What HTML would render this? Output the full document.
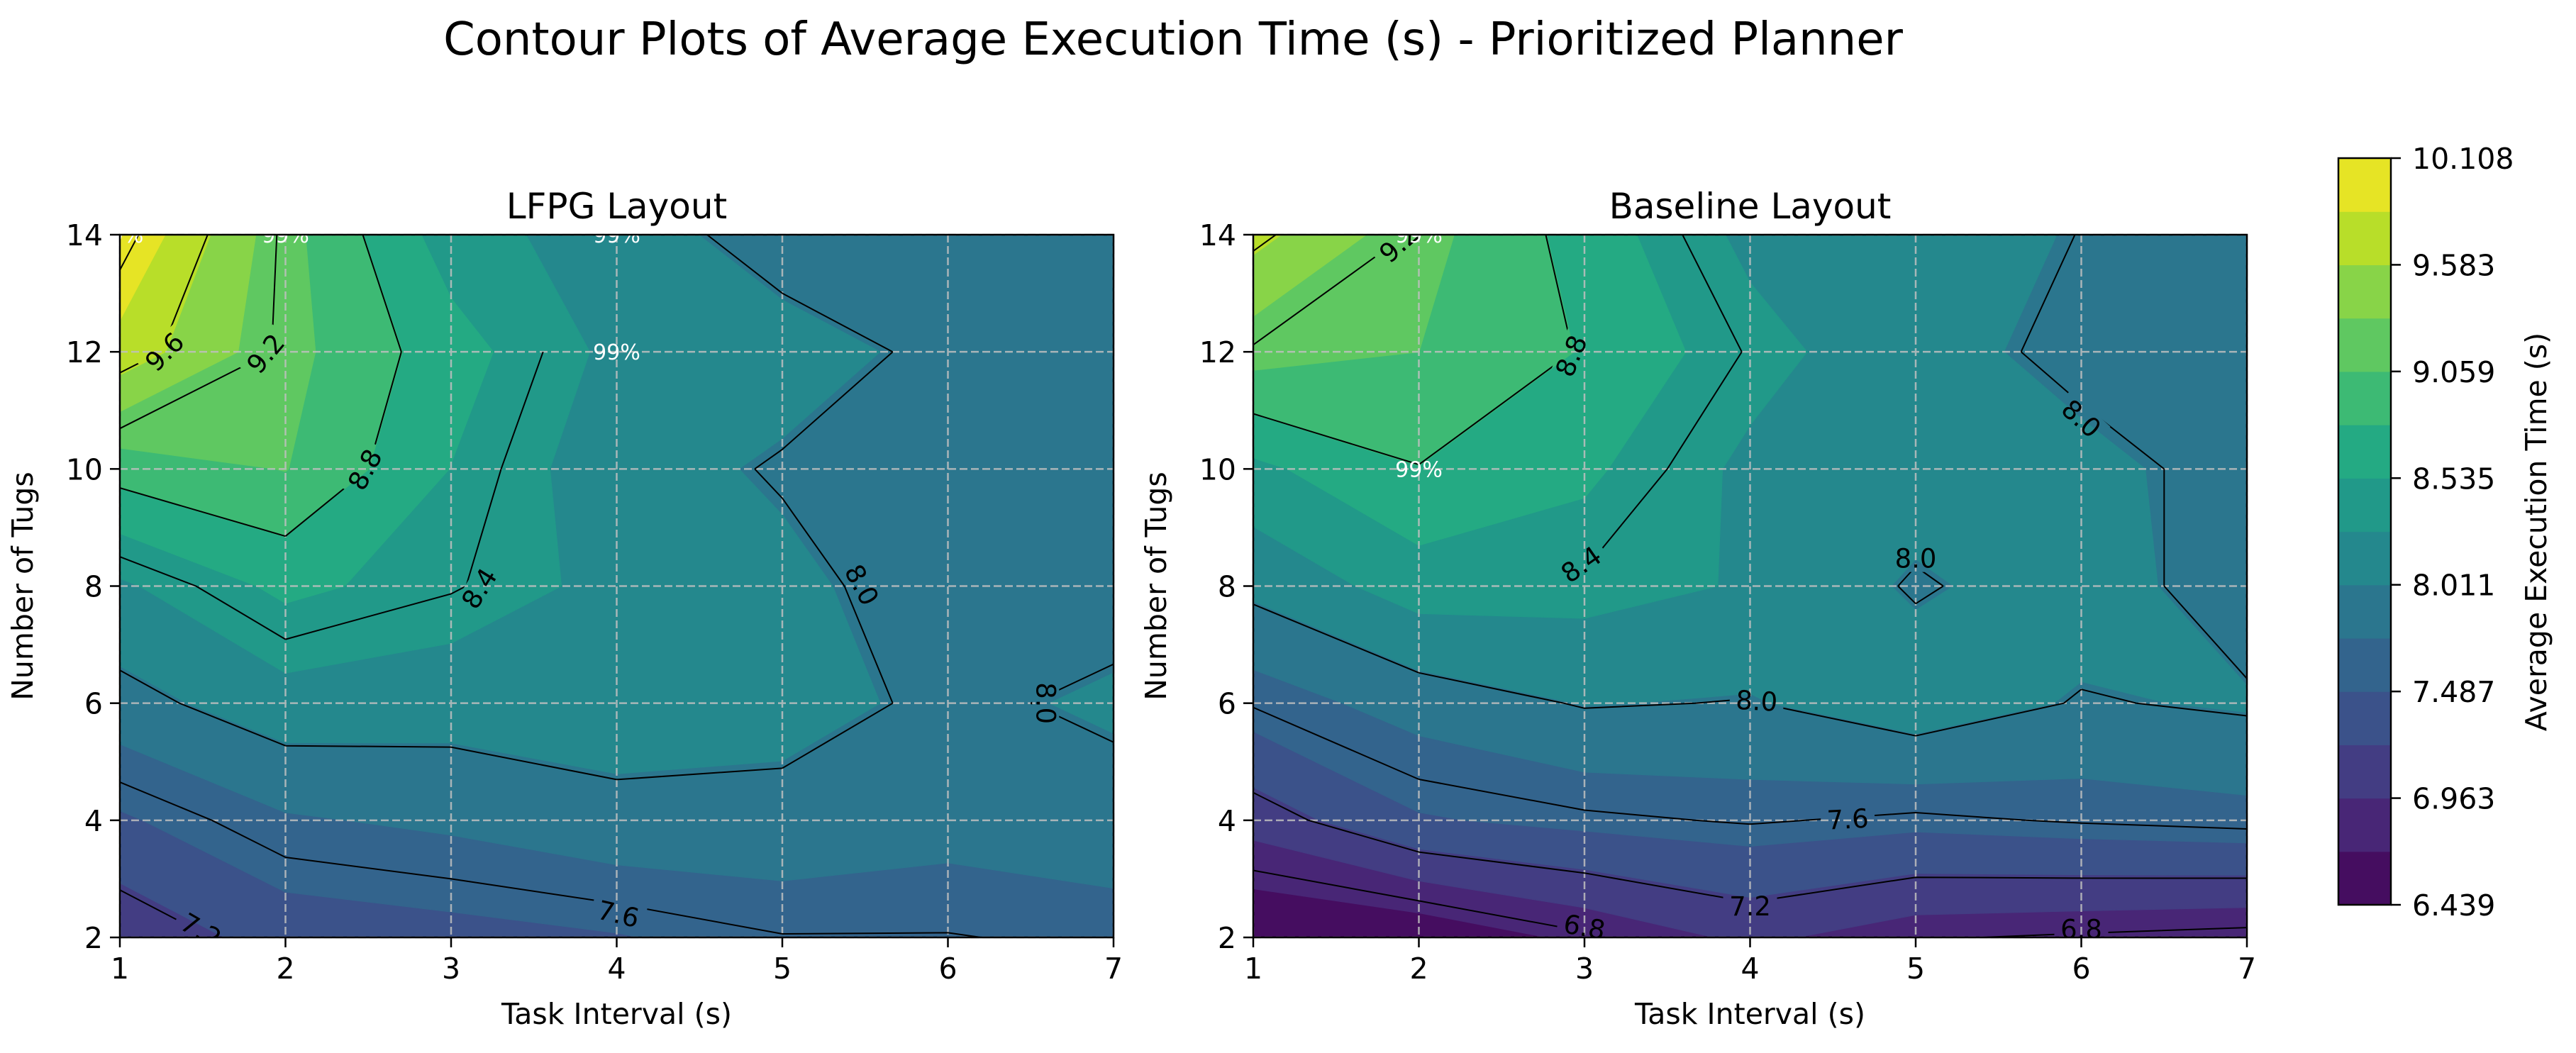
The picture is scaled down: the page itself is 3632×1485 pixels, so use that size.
<!DOCTYPE html>
<html><head><meta charset="utf-8"><title>Contour Plots</title>
<style>
html,body{margin:0;padding:0;background:#fff;}
svg{display:block;font-family:"DejaVu Sans","Liberation Sans",sans-serif;}
</style></head>
<body>
<svg id="fig" width="3632" height="1485" viewBox="0 0 3632 1485" xmlns="http://www.w3.org/2000/svg">
<rect width="3632" height="1485" fill="#fff"/>
<text x="1654" y="77" font-size="64" text-anchor="middle">Contour Plots of Average Execution Time (s) - Prioritized Planner</text>
<g id="panels"></g>
<g id="cbar"></g>
</svg>
<script>
// ---- data ----
const taskIntervals = [1, 2, 3, 4, 5, 6, 7];
const tugCounts = [2, 4, 6, 8, 10, 12, 14];
// rows correspond to tugCounts (bottom to top), columns to taskIntervals
const lfpgTimes = [
  [7.03, 7.34, 7.40, 7.47, 7.59, 7.59, 7.64],
  [7.45, 7.72, 7.80, 7.92, 7.92, 7.84, 7.90],
  [7.91, 8.16, 8.12, 8.15, 8.10, 7.95, 8.05],
  [8.23, 8.60, 8.42, 8.20, 8.06, 7.90, 7.90],
  [8.91, 9.07, 8.53, 8.10, 7.98, 7.85, 7.88],
  [9.75, 9.15, 8.65, 8.20, 8.10, 7.95, 7.90],
  [10.108, 9.15, 8.40, 8.12, 7.90, 7.85, 7.85]
];
const baselineTimes = [
  [6.439, 6.50, 6.76, 7.02, 6.82, 6.77, 6.72],
  [7.07, 7.46, 7.56, 7.62, 7.56, 7.62, 7.67],
  [7.62, 7.86, 8.02, 7.99, 8.17, 7.98, 8.04],
  [8.07, 8.40, 8.37, 8.25, 7.97, 8.15, 7.85],
  [8.47, 8.79, 8.59, 8.21, 8.15, 8.05, 7.95],
  [9.17, 9.06, 8.78, 8.38, 8.07, 7.96, 7.88],
  [9.67, 9.16, 8.69, 8.20, 8.10, 7.996, 7.85]
];
const lineLevels = [6.8, 7.2, 7.6, 8.0, 8.4, 8.8, 9.2, 9.6, 10.0];
const xTickLabels = ["1", "2", "3", "4", "5", "6", "7"];
const yTickLabels = ["2", "4", "6", "8", "10", "12", "14"];
const cbarTickLabels = ["6.439", "6.963", "7.487", "8.011", "8.535", "9.059", "9.583", "10.108"];
// success-rate annotations [x, y, text]
const lfpgNotes = [[1, 14, "99%"], [2, 14, "99%"], [4, 14, "99%"], [4, 12, "99%"]];
const baselineNotes = [[2, 14, "99%"], [2, 10, "99%"]];
// contour label placements [x, y, text, angle]
const lfpgLabels = [[1.27, 12.0, "9.6", -45], [1.88, 11.97, "9.2", -50], [2.48, 9.99, "8.8", -62], [3.17, 7.96, "8.4", -58], [5.48, 8.02, "8.0", 62], [6.59, 6.0, "8.0", 90], [4.01, 2.4, "7.6", 13], [1.49, 2.12, "7.2", 30]];
const baselineLabels = [[1.88, 13.85, "9.2", -42], [2.92, 11.93, "8.8", -68], [2.98, 8.37, "8.4", -35], [5.0, 8.47, "8.0", 0], [6.0, 10.86, "8.0", 42], [4.04, 6.04, "8.0", 3], [4.59, 4.02, "7.6", -3], [4.0, 2.53, "7.2", 0], [3.0, 2.18, "6.8", 10], [6.0, 2.14, "6.8", 0]];

const NB = 14;
const allVals = lfpgTimes.flat().concat(baselineTimes.flat());
const vmin = Math.min(...allVals), vmax = Math.max(...allVals);
const bandLevels = [];
for (let k = 0; k <= NB; k++) bandLevels.push(vmin + k * (vmax - vmin) / NB);

const VIR = ["#440154","#482475","#414487","#355f8d","#2a788e","#21918c","#22a884","#44bf70","#7ad151","#bddf26","#fde725"];
function hex2rgb(h){return [parseInt(h.substr(1,2),16),parseInt(h.substr(3,2),16),parseInt(h.substr(5,2),16)];}
function viridis(t){
  t=Math.max(0,Math.min(1,t)); const f=t*10; const i=Math.min(9,Math.floor(f)); const r=f-i;
  const a=hex2rgb(VIR[i]), b=hex2rgb(VIR[i+1]);
  return "rgb("+a.map((c,k)=>Math.round(c+(b[k]-c)*r)).join(",")+")";
}
const bandColors = [];
for (let k = 0; k < NB; k++) bandColors.push(viridis((k + 0.5) / NB));

const NS = "http://www.w3.org/2000/svg";
function el(tag, attrs, parent){
  const e=document.createElementNS(NS,tag);
  for(const k in attrs) e.setAttribute(k,attrs[k]);
  if(parent) parent.appendChild(e);
  return e;
}
function clip(poly, L, above){
  const out=[]; const n=poly.length;
  for(let i=0;i<n;i++){
    const a=poly[i], b=poly[(i+1)%n];
    const ina = above ? a.v>=L : a.v<=L;
    const inb = above ? b.v>=L : b.v<=L;
    if(ina) out.push(a);
    if(ina!==inb){
      const t=(L-a.v)/(b.v-a.v);
      out.push({x:a.x+(b.x-a.x)*t,y:a.y+(b.y-a.y)*t,v:L});
    }
  }
  return out;
}

const panels = document.getElementById("panels");
function drawPanel(idx, x0, title, Z, notes, labels){
  const y0=331, w=1401, h=991;
  const sx = v => x0 + (v - taskIntervals[0]) / (taskIntervals[taskIntervals.length-1]-taskIntervals[0]) * w;
  const sy = v => y0 + h - (v - tugCounts[0]) / (tugCounts[tugCounts.length-1]-tugCounts[0]) * h;
  const g = el("g",{},panels);
  
  
  const cid="clip"+idx;
  const cp=el("clipPath",{id:cid},g); el("rect",{x:x0,y:y0,width:w,height:h},cp);
  const fill=el("g",{"clip-path":"url(#"+cid+")"},g);
  
  
  for(let r=0;r<tugCounts.length-1;r++){
    for(let c=0;c<taskIntervals.length-1;c++){
      const quad=[
        {x:sx(taskIntervals[c]),y:sy(tugCounts[r]),v:Z[r][c]},
        {x:sx(taskIntervals[c+1]),y:sy(tugCounts[r]),v:Z[r][c+1]},
        {x:sx(taskIntervals[c+1]),y:sy(tugCounts[r+1]),v:Z[r+1][c+1]},
        {x:sx(taskIntervals[c]),y:sy(tugCounts[r+1]),v:Z[r+1][c]}];
      for(let k=0;k<NB;k++){
        let p=clip(quad,bandLevels[k]-(k===0?1e-6:0),true);
        if(p.length<3) continue;
        p=clip(p,bandLevels[k+1]+(k===NB-1?1e-6:0),false);
        if(p.length<3) continue;
        const poly=el("polygon",{points:p.map(q=>q.x.toFixed(1)+","+q.y.toFixed(1)).join(" "),fill:bandColors[k],stroke:bandColors[k],"stroke-width":"1.2"},fill);
        
        
      }
    }
  }
  const grid=el("g",{stroke:"#c0c0c0","stroke-width":"2.5","stroke-dasharray":"11 5",opacity:"0.85"},g);
  
  
  taskIntervals.forEach(t=>el("line",{x1:sx(t),x2:sx(t),y1:y0,y2:y0+h},grid));
  tugCounts.forEach(t=>el("line",{x1:x0,x2:x0+w,y1:sy(t),y2:sy(t)},grid));
  const mid="mask"+idx;
  const mask=el("mask",{id:mid,maskUnits:"userSpaceOnUse",x:0,y:0,width:3632,height:1485},g);
  el("rect",{x:0,y:0,width:3632,height:1485,fill:"#fff"},mask);
  labels.forEach(L=>{
    const px=sx(L[0]), py=sy(L[1]);
    el("rect",{x:px-38,y:py-19,width:76,height:38,fill:"#000",transform:"rotate("+L[3]+" "+px+" "+py+")"},mask);
  });
  const lg=el("g",{"clip-path":"url(#"+cid+")"},g);
  const lines=el("g",{stroke:"#000","stroke-width":"2",fill:"none",mask:"url(#"+mid+")"},lg);
  
  
  lineLevels.forEach(L=>{
    let d="";
    for(let r=0;r<tugCounts.length-1;r++){
      for(let c=0;c<taskIntervals.length-1;c++){
        const P=[[taskIntervals[c],tugCounts[r],Z[r][c]],[taskIntervals[c+1],tugCounts[r],Z[r][c+1]],[taskIntervals[c+1],tugCounts[r+1],Z[r+1][c+1]],[taskIntervals[c],tugCounts[r+1],Z[r+1][c]]];
        const pts={};
        for(let e=0;e<4;e++){
          const a=P[e], b=P[(e+1)%4];
          if((a[2]-L)*(b[2]-L)<0){
            const t=(L-a[2])/(b[2]-a[2]);
            pts[e]=[sx(a[0]+(b[0]-a[0])*t),sy(a[1]+(b[1]-a[1])*t)];
          }
        }
        const keys=Object.keys(pts).map(Number);
        let segs=[];
        if(keys.length===2) segs=[[keys[0],keys[1]]];
        else if(keys.length===4){
          const ctr=(P[0][2]+P[1][2]+P[2][2]+P[3][2])/4;
          if((P[0][2]>=L)===(ctr>=L)) segs=[[0,1],[2,3]]; else segs=[[3,0],[1,2]];
        }
        segs.forEach(s=>{const a=pts[s[0]],b=pts[s[1]];d+="M"+a[0].toFixed(1)+","+a[1].toFixed(1)+"L"+b[0].toFixed(1)+","+b[1].toFixed(1);});
      }
    }
    if(d){
      const p=el("path",{d:d},lines);
      
      
    }
  });
  labels.forEach(L=>{
    const px=sx(L[0]), py=sy(L[1]);
    const t=el("text",{x:px,y:py+13,"font-size":"37","text-anchor":"middle",fill:"#000",transform:"rotate("+L[3]+" "+px+" "+py+")"},lg);
    t.textContent=L[2];
    
    
  });
  notes.forEach(N=>{
    const t=el("text",{x:sx(N[0]),y:sy(N[1])+11,"font-size":"30","text-anchor":"middle",fill:"#fff"},lg);
    t.textContent=N[2];
    
    
  });
  const sp=el("rect",{x:x0,y:y0,width:w,height:h,fill:"none",stroke:"#000","stroke-width":"2.5"},g);
  
  
  const tk=el("g",{stroke:"#000","stroke-width":"2.5"},g);
  const tl=el("g",{"font-size":"41",fill:"#000"},g);
  taskIntervals.forEach((t,i)=>{
    el("line",{x1:sx(t),x2:sx(t),y1:y0+h,y2:y0+h+14},tk);
    const tx=el("text",{x:sx(t),y:y0+h+58,"text-anchor":"middle"},tl);
    tx.textContent=xTickLabels[i];
    
    
  });
  tugCounts.forEach((t,i)=>{
    el("line",{x1:x0-14,x2:x0,y1:sy(t),y2:sy(t)},tk);
    const tx=el("text",{x:x0-24,y:sy(t)+15,"text-anchor":"end"},tl);
    tx.textContent=yTickLabels[i];
    
    
  });
  const tt=el("text",{x:x0+w/2,y:308,"font-size":"50","text-anchor":"middle"},g);
  tt.textContent=title;
  
  
  const xl=el("text",{x:x0+w/2,y:1444,"font-size":"41","text-anchor":"middle"},g);
  xl.textContent="Task Interval (s)";
  
  
  const yx=x0-123, yy=y0+h/2;
  const yl=el("text",{x:yx,y:yy,"font-size":"41","text-anchor":"middle",transform:"rotate(-90 "+yx+" "+yy+")"},g);
  yl.textContent="Number of Tugs";
  
  
}
drawPanel(0,169,"LFPG Layout",lfpgTimes,lfpgNotes,lfpgLabels);
drawPanel(1,1767,"Baseline Layout",baselineTimes,baselineNotes,baselineLabels);

const cb=document.getElementById("cbar");


const cx0=3297, cx1=3371, cy0=223, cy1=1276;
const cyOf=v=>cy1-(v-vmin)/(vmax-vmin)*(cy1-cy0);
for(let k=0;k<NB;k++){
  const r=el("rect",{x:cx0,y:cyOf(bandLevels[k+1]),width:cx1-cx0,height:cyOf(bandLevels[k])-cyOf(bandLevels[k+1])+0.6,fill:bandColors[k]},cb);
  
  
}
el("rect",{x:cx0,y:cy0,width:cx1-cx0,height:cy1-cy0,fill:"none",stroke:"#000","stroke-width":"2.5"},cb);
cbarTickLabels.forEach((lab,i)=>{
  const y=cyOf(bandLevels[i*2]);
  el("line",{x1:cx1,x2:cx1+14,y1:y,y2:y,stroke:"#000","stroke-width":"2.5"},cb);
  const t=el("text",{x:cx1+30,y:y+15,"font-size":"41"},cb);
  t.textContent=lab;
  
  
});
const cl=el("text",{x:3590,y:750,"font-size":"41","text-anchor":"middle",transform:"rotate(-90 3590 750)"},cb);
cl.textContent="Average Execution Time (s)";


</script>
</body></html>
